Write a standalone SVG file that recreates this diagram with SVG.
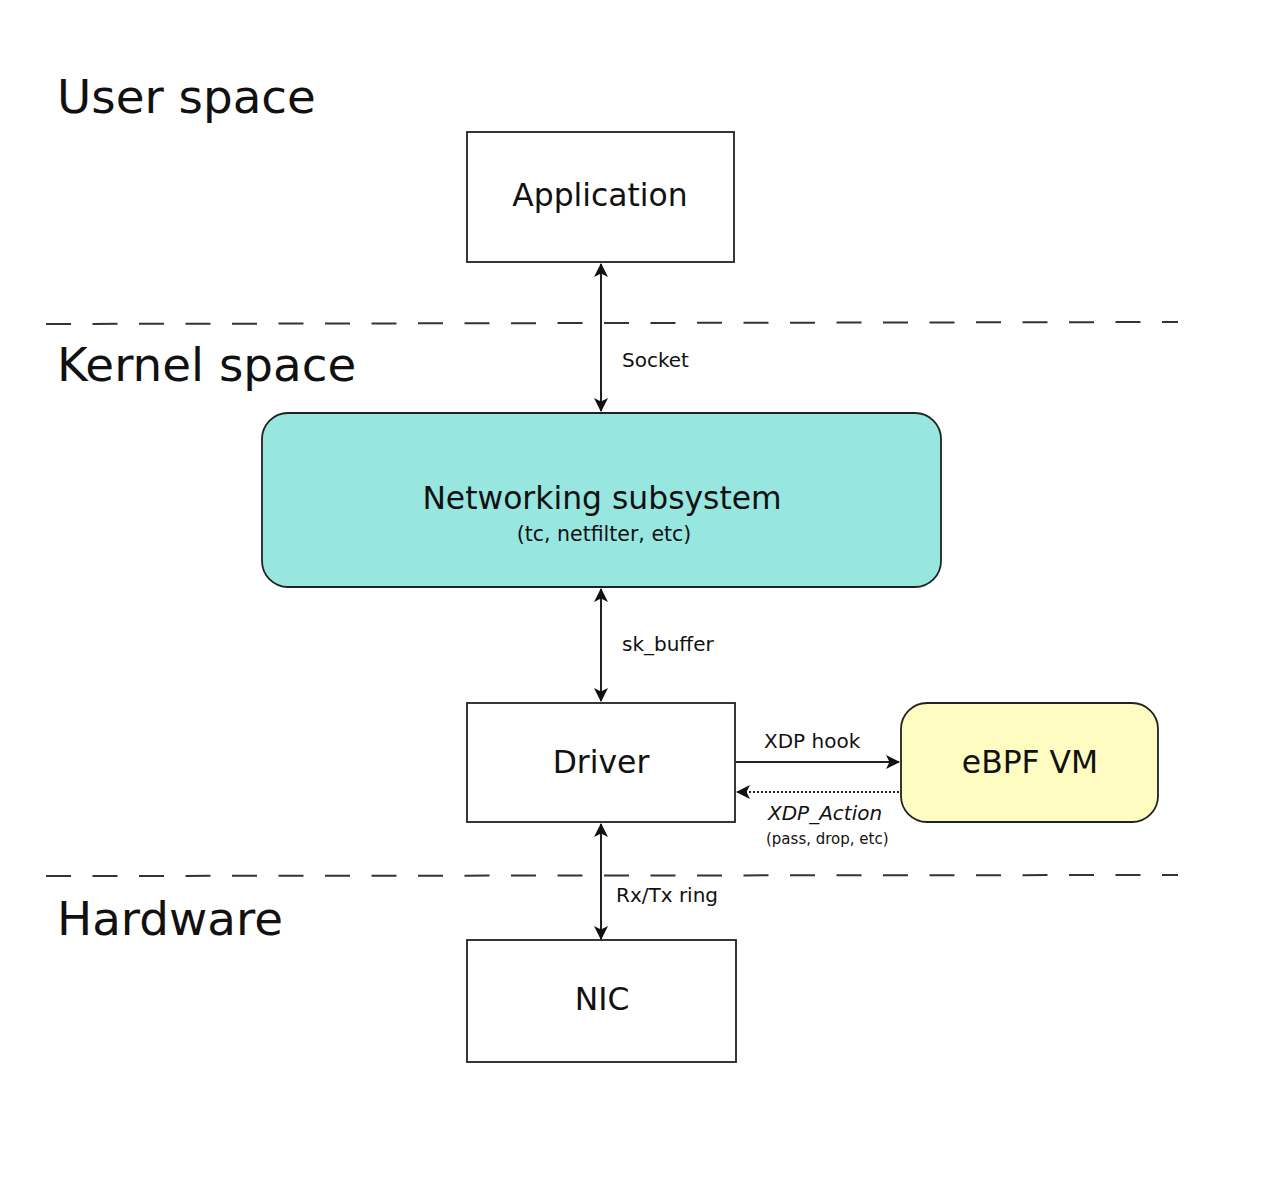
<svg xmlns="http://www.w3.org/2000/svg" width="1276" height="1202" viewBox="0 0 1276 1202">
<style>
text{font-family:"DejaVu Sans","Liberation Sans",sans-serif;fill:#111}
.box{fill:#fff;stroke:#222;stroke-width:1.8}
.zone{font-size:46.8px}
.node{font-size:31.4px;text-anchor:middle}
.lbl{font-size:20px}
.sep{stroke:#333;stroke-width:2;stroke-dasharray:25 21.5;fill:none}
.ln{stroke:#222;stroke-width:2;fill:none}
</style>
<defs>
<marker id="ah" viewBox="0 0 14 14" refX="13" refY="7" markerWidth="14" markerHeight="14" markerUnits="userSpaceOnUse" orient="auto-start-reverse">
<path d="M0,0 L14,7 L0,14 L3.5,7 Z" fill="#111"/>
</marker>
</defs>
<rect width="1276" height="1202" fill="#fff"/>
<g id="separators">
<path class="sep" d="M46,324 L1178,322"/>
<path class="sep" d="M46,876 L1178,875"/>
</g>
<g id="zones">
<text class="zone" x="57" y="113">User space</text>
<text class="zone" x="57" y="381">Kernel space</text>
<text class="zone" x="57" y="935">Hardware</text>
</g>
<g id="application">
<rect class="box" x="467" y="132" width="267" height="130"/>
<text class="node" x="600" y="206">Application</text>
</g>
<g id="networking">
<rect x="262" y="413" width="679" height="174" rx="26" fill="#98e6e0" stroke="#222" stroke-width="1.8"/>
<text class="node" x="602" y="509">Networking subsystem</text>
<text x="604" y="541" font-size="20.5" text-anchor="middle">(tc, netfilter, etc)</text>
</g>
<g id="driver">
<rect class="box" x="467" y="703" width="268" height="119"/>
<text class="node" x="601" y="773">Driver</text>
</g>
<g id="ebpf">
<rect x="901" y="703" width="257" height="119" rx="26" fill="#fefcc0" stroke="#222" stroke-width="1.8"/>
<text class="node" x="1030" y="773">eBPF VM</text>
</g>
<g id="nic">
<rect class="box" x="467" y="940" width="269" height="122"/>
<text class="node" x="602" y="1010">NIC</text>
</g>
<g id="connectors">
<line class="ln" x1="601" y1="264" x2="601" y2="411" marker-start="url(#ah)" marker-end="url(#ah)"/>
<line class="ln" x1="601" y1="589" x2="601" y2="701" marker-start="url(#ah)" marker-end="url(#ah)"/>
<line class="ln" x1="601" y1="824" x2="601" y2="939" marker-start="url(#ah)" marker-end="url(#ah)"/>
<line class="ln" x1="736" y1="762" x2="899" y2="762" marker-end="url(#ah)"/>
<line x1="899" y1="792" x2="737" y2="792" stroke="#222" stroke-width="1.8" stroke-dasharray="2 2" marker-end="url(#ah)"/>
<text class="lbl" x="622" y="367">Socket</text>
<text class="lbl" x="622" y="651">sk_buffer</text>
<text class="lbl" x="616" y="902">Rx/Tx ring</text>
<text class="lbl" x="764" y="748">XDP hook</text>
<text class="lbl" x="768" y="820" font-style="italic">XDP_Action</text>
<text x="766" y="844" font-size="15">(pass, drop, etc)</text>
</g>
</svg>
